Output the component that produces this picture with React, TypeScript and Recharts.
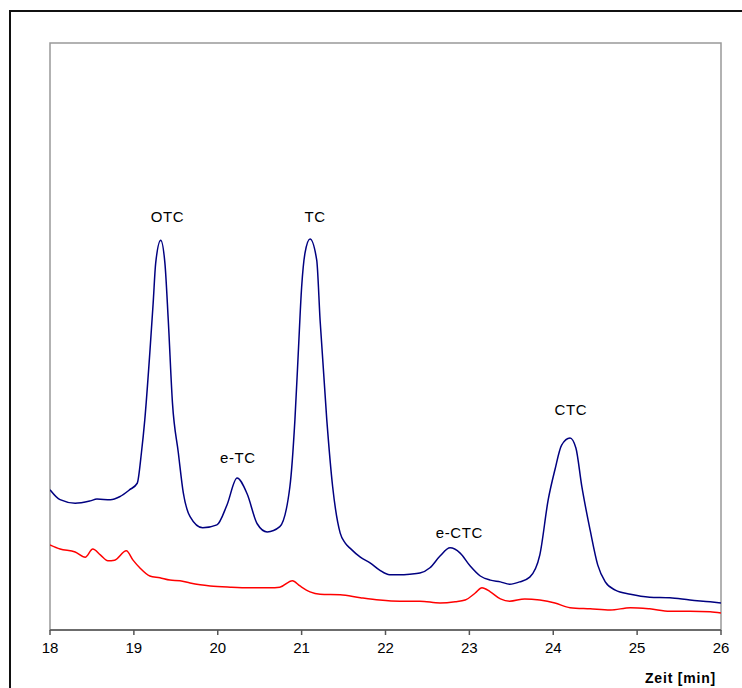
import React from 'react';
import { LineChart, Line, XAxis, YAxis, ReferenceArea, ReferenceDot } from 'recharts';

// Retention time axis (min) and detector signal (arbitrary units)
const TIME_TICKS = [18, 19, 20, 21, 22, 23, 24, 25, 26];

const SAMPLE_T = [
  18.0, 18.12, 18.3, 18.48, 18.56, 18.72, 18.83, 18.95, 19.04, 19.09, 19.13, 19.19, 19.23, 19.26, 19.32,
  19.37, 19.41, 19.46, 19.53, 19.59, 19.67, 19.82, 19.99, 20.11, 20.23, 20.35, 20.47, 20.59, 20.74, 20.86,
  20.92, 20.96, 21.0, 21.04, 21.1, 21.18, 21.22, 21.3, 21.37, 21.46, 21.52, 21.58, 21.7, 21.82, 21.93, 22.05,
  22.17, 22.29, 22.41, 22.53, 22.65, 22.77, 22.89, 23.01, 23.13, 23.25, 23.37, 23.48, 23.6, 23.72, 23.84,
  23.94, 24.02, 24.1, 24.2, 24.27, 24.34, 24.44, 24.53, 24.62, 24.74, 24.92, 25.15, 25.39, 25.63, 25.87, 26.0,
];
const SAMPLE_SIGNAL = [
  23.9, 22.2, 21.6, 22.0, 22.3, 22.2, 22.7, 23.9, 25.0, 30.2, 35.8, 47.2, 55.7, 62.5, 66.4,
  62.5, 52.8, 38.7, 30.2, 23.3, 19.3, 17.4, 17.9, 21.3, 25.9, 23.2, 18.1, 16.7, 17.6, 24.4,
  35.8, 47.2, 58.4, 64.2, 66.6, 63.0, 52.8, 35.8, 24.4, 16.5, 14.8, 13.9, 12.4, 11.4, 10.2, 9.4,
  9.4, 9.5, 9.7, 10.6, 12.6, 14.0, 13.1, 10.9, 9.2, 8.5, 8.2, 7.8, 8.2, 9.0, 12.8,
  22.2, 27.3, 31.5, 32.7, 31.0, 24.5, 17.0, 11.1, 8.2, 6.8, 6.1, 5.6, 5.5, 5.1, 4.8, 4.6,
];

const BLANK_T = [
  18.0, 18.12, 18.3, 18.42, 18.51, 18.6, 18.69, 18.77, 18.91, 18.99, 19.07, 19.19, 19.31, 19.43, 19.55,
  19.67, 19.79, 19.91, 20.15, 20.38, 20.62, 20.74, 20.89, 20.98, 21.1, 21.22, 21.46, 21.7, 21.93, 22.17,
  22.41, 22.65, 22.83, 22.95, 23.07, 23.15, 23.25, 23.37, 23.48, 23.66, 23.84, 24.02, 24.2, 24.44, 24.68,
  24.92, 25.15, 25.39, 25.63, 25.87, 26.0,
];
const BLANK_SIGNAL = [
  14.5, 13.8, 13.3, 12.4, 13.8, 12.8, 11.8, 11.9, 13.5, 11.9, 10.6, 9.2, 8.9, 8.5, 8.4,
  8.0, 7.7, 7.5, 7.3, 7.2, 7.2, 7.3, 8.4, 7.5, 6.5, 6.1, 6.0, 5.5, 5.1, 4.9,
  4.9, 4.6, 4.8, 5.1, 6.3, 7.2, 6.5, 5.3, 4.9, 5.3, 5.1, 4.6, 3.8, 3.6, 3.4,
  3.8, 3.6, 3.2, 3.2, 3.1, 2.9,
];

// Peak names with the point where each name sits
const PEAK_NAMES = ['OTC', 'e-TC', 'TC', 'e-CTC', 'CTC'];
const PEAK_NAME_T = [19.4, 20.24, 21.16, 22.88, 24.21];
const PEAK_NAME_Y = [70.4, 29.3, 70.4, 16.6, 37.6];

const sample = SAMPLE_T.map((t, i) => ({ t, v: SAMPLE_SIGNAL[i] }));
const blank = BLANK_T.map((t, i) => ({ t, v: BLANK_SIGNAL[i] }));

const FONT = '"Liberation Sans", Arial, sans-serif';

export default function App() {
  return (
    <div
      style={{
        position: 'absolute',
        left: 0,
        top: 0,
        width: 742,
        height: 688,
        overflow: 'hidden',
        background: '#fff',
        fontFamily: FONT,
      }}
    >
      <div
        style={{
          position: 'absolute',
          left: 9,
          top: 10,
          width: 733,
          height: 678,
          boxSizing: 'border-box',
          borderLeft: '2px solid #111',
          borderTop: '2px solid #111',
        }}
      />
      <div style={{ position: 'absolute', left: 0, top: 0 }}>
        <LineChart width={742} height={688} margin={{ top: 43, right: 21, left: 50, bottom: 0 }}>
          <XAxis
            dataKey="t"
            type="number"
            domain={[18, 26]}
            ticks={TIME_TICKS}
            allowDataOverflow
            height={58}
            axisLine={{ stroke: '#555', strokeWidth: 1.5 }}
            tickLine={{ stroke: '#555', strokeWidth: 1.5 }}
            tickSize={5}
            tickMargin={7}
            tick={{ fill: '#000', fontSize: 15, fontFamily: FONT }}
            label={{
              value: 'Zeit [min]',
              position: 'insideBottomRight',
              offset: 5,
              style: { fontWeight: 'bold', fontSize: 14, fill: '#000', fontFamily: FONT, letterSpacing: 0.8 },
            }}
          />
          <YAxis type="number" domain={[0, 100]} hide />
          <ReferenceArea x1={18} x2={26} y1={0} y2={100} fill="none" stroke="#999" strokeWidth={1.5} />
          <Line
            data={blank}
            dataKey="v"
            type="monotone"
            stroke="#ff0000"
            strokeWidth={1.5}
            dot={false}
            isAnimationActive={false}
          />
          <Line
            data={sample}
            dataKey="v"
            type="monotone"
            stroke="#000080"
            strokeWidth={1.5}
            dot={false}
            isAnimationActive={false}
          />
          {PEAK_NAMES.map((name, i) => (
            <ReferenceDot
              key={name}
              x={PEAK_NAME_T[i]}
              y={PEAK_NAME_Y[i]}
              r={0}
              fill="none"
              stroke="none"
              label={{
                value: name,
                position: 'center',
                style: { fontSize: 15, fill: '#000', fontFamily: FONT, letterSpacing: 0.6 },
              }}
            />
          ))}
        </LineChart>
      </div>
    </div>
  );
}
